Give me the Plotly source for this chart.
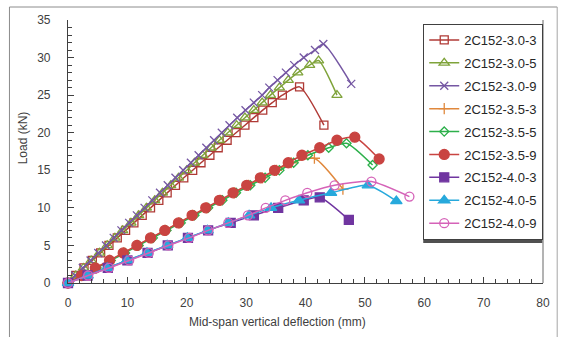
import plotly.graph_objects as go

# Mid-span deflection (mm) and load (kN) for each specimen
d_30_3 = [0, 1.3, 2.7, 4.1, 5.5, 6.9, 8.3, 9.7, 11.1, 12.5, 13.9, 15.3, 16.7, 18.1, 19.5, 21.0,
          22.4, 23.9, 25.3, 26.8, 28.3, 29.8, 31.3, 32.8, 34.4, 36.1, 39.0, 43.1]
p_30_3 = [0, 1, 2, 3, 4, 5, 6, 7, 8, 9, 10, 11, 12, 13, 14, 15, 16, 17, 18, 19, 20, 21, 22, 23,
          24, 25, 26.1, 21.0]

d_30_5 = [0, 1.3, 2.6, 3.9, 5.3, 6.6, 7.9, 9.2, 10.6, 11.9, 13.2, 14.6, 15.9, 17.3, 18.6, 20.0,
          21.3, 22.7, 24.1, 25.5, 26.9, 28.4, 29.8, 31.3, 32.7, 34.1, 35.6, 37.1, 38.7, 40.7, 42.2, 45.3]
p_30_5 = [0, 1, 2, 3, 4, 5, 6, 7, 8, 9, 10, 11, 12, 13, 14, 15, 16, 17, 18, 19, 20, 21, 22, 23,
          24, 25, 26, 27, 28, 29, 29.6, 25.0]

d_30_9 = [0, 1.2, 2.5, 3.8, 5.1, 6.4, 7.7, 9.0, 10.3, 11.6, 12.9, 14.2, 15.5, 16.8, 18.1, 19.4,
          20.7, 22.0, 23.3, 24.6, 25.9, 27.2, 28.5, 29.9, 31.3, 32.7, 33.9, 35.3, 36.7, 38.1, 39.7,
          41.6, 43.0, 47.7]
p_30_9 = [0, 1, 2, 3, 4, 5, 6, 7, 8, 9, 10, 11, 12, 13, 14, 15, 16, 17, 18, 19, 20, 21, 22, 23,
          24, 25, 26, 27, 28, 29, 30, 31, 31.8, 26.5]

d_35_3 = [0, 2.3, 4.7, 7.0, 9.4, 11.7, 14.0, 16.4, 18.7, 21.0, 23.4, 25.7, 28.0, 30.4, 32.7, 35.1,
          37.6, 41.5, 46.3]
p_35_3 = [0, 1, 2, 3, 4, 5, 6, 7, 8, 9, 10, 11, 12, 13, 14, 15, 16, 16.6, 12.5]

d_35_5 = [0, 2.4, 4.8, 7.2, 9.6, 11.9, 14.3, 16.6, 19.0, 21.3, 23.6, 26.0, 28.3, 30.7, 33.2, 35.6,
          38.0, 40.4, 43.9, 46.9, 51.3]
p_35_5 = [0, 1, 2, 3, 4, 5, 6, 7, 8, 9, 10, 11, 12, 13, 14, 15, 16, 17, 18, 18.6, 15.7]

d_35_9 = [0, 2.3, 4.6, 7.0, 9.3, 11.6, 13.9, 16.3, 18.6, 20.9, 23.2, 25.5, 27.8, 30.1, 32.4, 34.8,
          37.1, 39.4, 42.4, 45.3, 48.3, 52.4]
p_35_9 = [0, 1, 2, 3, 4, 5, 6, 7, 8, 9, 10, 11, 12, 13, 14, 15, 16, 17, 18, 19, 19.4, 16.5]

d_40_3 = [0, 3.3, 6.7, 10.0, 13.4, 16.8, 20.2, 23.6, 27.4, 31.3, 35.4, 39.7, 42.4, 47.3]
p_40_3 = [0, 1, 2, 3, 4, 5, 6, 7, 8, 9, 10, 11, 11.4, 8.4]

d_40_5 = [0, 3.3, 6.6, 9.9, 13.3, 16.7, 20.1, 23.5, 27.0, 30.5, 34.2, 38.9, 44.3, 50.5, 55.3]
p_40_5 = [0, 1, 2, 3, 4, 5, 6, 7, 8, 9, 10, 11, 12, 13, 10.9]

d_40_9 = [0, 3.4, 6.9, 10.3, 13.6, 16.9, 20.4, 23.6, 27.0, 30.3, 33.3, 36.6, 40.3, 44.9, 51.1, 57.5]
p_40_9 = [0, 1, 2, 3, 4, 5, 6, 7, 8, 9, 10, 11, 12, 13, 13.5, 11.5]

series = [
    ("2C152-3.0-3", d_30_3, p_30_3, "#B03A36", "square-open", 8),
    ("2C152-3.0-5", d_30_5, p_30_5, "#7FA33A", "triangle-up-open", 9),
    ("2C152-3.0-9", d_30_9, p_30_9, "#7557A3", "x-thin-open", 8),
    ("2C152-3.5-3", d_35_3, p_35_3, "#E0883C", "cross-thin-open", 8),
    ("2C152-3.5-5", d_35_5, p_35_5, "#2DB04B", "diamond-open", 7),
    ("2C152-3.5-9", d_35_9, p_35_9, "#C94441", "circle", 10),
    ("2C152-4.0-3", d_40_3, p_40_3, "#7035A0", "square", 9),
    ("2C152-4.0-5", d_40_5, p_40_5, "#27A9DC", "triangle-up", 10),
    ("2C152-4.0-9", d_40_9, p_40_9, "#D562B8", "circle-open", 9),
]

fig = go.Figure()
for name, xs, ys, color, symbol, size in series:
    fig.add_trace(go.Scatter(
        x=xs, y=ys, name=name, mode="lines+markers",
        legendgroup=name,
        line=dict(color=color, width=1.5, shape="spline", smoothing=0.6),
        marker=dict(symbol=symbol, size=size, color=color,
                    line=dict(color=color, width=1.3)),
        cliponaxis=False,
    ))

# plot-area geometry in pixels, used to place shapes in paper units
L, R, T, B = 68, 546.7, 20, 283
W, H = R - L, B - T


def px(x):
    return (x - L) / W


def py(y):
    return (B - y) / H


shapes = [
    # outer chart border
    dict(type="line", xref="paper", yref="paper", x0=px(9), x1=px(9), y0=py(345), y1=py(7),
         line=dict(color="#8C8C8C", width=1)),
    dict(type="line", xref="paper", yref="paper", x0=px(9), x1=px(561), y0=py(7), y1=py(7),
         line=dict(color="#8C8C8C", width=1)),
    dict(type="line", xref="paper", yref="paper", x0=px(561), x1=px(561), y0=py(345), y1=py(7),
         line=dict(color="#A6A6A6", width=1)),
    # plot-area frame (right side)
    dict(type="line", xref="paper", yref="paper", x0=1, x1=1, y0=0, y1=1,
         line=dict(color="#9A9A9A", width=1.5), layer="below"),
    # legend drop shadow
    dict(type="rect", xref="paper", yref="paper", x0=px(426), x1=px(546), y0=py(243), y1=py(27),
         line=dict(width=0), fillcolor="#505050", layer="above"),
]

fig.update_layout(
    width=562, height=337,
    margin=dict(l=L, r=562 - R, t=T, b=337 - B),
    paper_bgcolor="white", plot_bgcolor="white",
    font=dict(family="Liberation Sans, Arial, sans-serif", size=12, color="#404040"),
    showlegend=True,
    legend=dict(
        x=px(426), y=py(24), xanchor="left", yanchor="top",
        bgcolor="white", bordercolor="#404040", borderwidth=1,
        font=dict(size=13, color="#262626"),
        itemwidth=30, tracegroupgap=3, traceorder="grouped",
    ),
    shapes=shapes,
    annotations=[
        dict(text="Mid-span vertical deflection (mm)", xref="paper", yref="paper",
             x=px(279), y=py(322), showarrow=False, xanchor="center", yanchor="middle",
             font=dict(size=12, color="#404040")),
        dict(text="Load (kN)", xref="paper", yref="paper", x=px(23), y=py(138),
             showarrow=False, textangle=-90, xanchor="center", yanchor="middle",
             font=dict(size=12, color="#404040")),
    ],
)

fig.update_xaxes(
    range=[0, 80], dtick=10, tick0=0, showgrid=False, zeroline=False,
    showline=True, linecolor="#404040", linewidth=1.2,
    ticks="inside", ticklen=6, tickcolor="#404040", ticklabelstandoff=8,
    minor=dict(dtick=2, ticks="inside", ticklen=4, tickcolor="#404040", showgrid=False),
)
fig.update_yaxes(
    range=[0, 35], dtick=5, tick0=0, showgrid=False, zeroline=False,
    showline=True, linecolor="#404040", linewidth=1.2,
    ticks="inside", ticklen=6, tickcolor="#404040", ticklabelstandoff=14,
    minor=dict(dtick=1, ticks="inside", ticklen=4, tickcolor="#404040", showgrid=False),
)

fig.write_html("out.html")
